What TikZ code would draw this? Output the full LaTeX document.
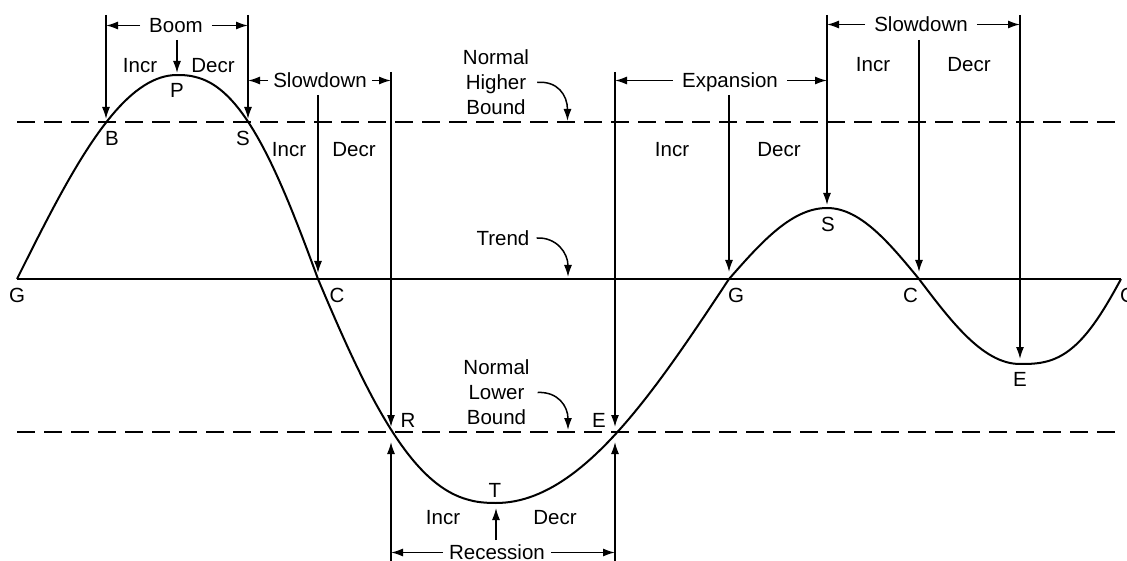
\documentclass[tikz,border=0pt]{standalone}
\usepackage{fontspec}
\setmainfont{Liberation Sans}
\usetikzlibrary{arrows.meta}
\begin{document}
\begin{tikzpicture}[x=1pt,y=-1pt,
  curve/.style={line width=2pt, line join=round},
  guide/.style={line width=1.5pt},
  bound/.style={line width=1.6pt, dash pattern=on 18pt off 9pt},
  arr/.style={guide,-{Latex[length=12pt,width=8pt]}},
  lbl/.style={font=\fontsize{20.5}{25}\selectfont, inner sep=0pt, text height=14.7pt, text depth=0pt},
  brk/.style={lbl, inner xsep=9pt},
  multi/.style={font=\fontsize{20.5}{25}\selectfont, align=center, inner sep=0pt}
]
\useasboundingbox (0,0) rectangle (1127,561);
\fill[white] (0,0) rectangle (1127,561);

% points on the curve
\coordinate (G1) at (17,279);
\coordinate (B1) at (106,122);
\coordinate (P)  at (177,75);
\coordinate (S1) at (248,122);
\coordinate (C1) at (318,279);
\coordinate (R)  at (391,432);
\coordinate (T)  at (496,503);
\coordinate (E1) at (615,432);
\coordinate (G2) at (729,279);
\coordinate (S2) at (827,208);
\coordinate (C2) at (919,279);
\coordinate (E2) at (1020,364);
\coordinate (G3) at (1121,279);

% bounds and trend
\coordinate (ubL) at (17,122);  \coordinate (ubR) at (1121,122);
\coordinate (lbL) at (17,432);  \coordinate (lbR) at (1121,432);
\draw[bound] (ubL) -- (ubR);
\draw[bound] (lbL) -- (lbR);
\draw[line width=1.6pt] (G1) -- (G3);

% the cycle curve
\draw[curve] (G1)
 -- plot[domain=17:177, samples=40] (\x,{279-204*sin(((\x-17)/160)*90)})
 -- plot[domain=177.5:318, samples=40] (\x,{279-204*cos((((\x-177)/141)^1.2)*90)})
 -- plot[domain=318:495.5, samples=50] (\x,{279+224*sin((1-(1-(\x-318)/178)^1.2)*90)})
 -- plot[domain=496:729, samples=50] (\x,{279+224*cos(((\x-496)/233)*90)})
 -- plot[domain=729:827, samples=30] (\x,{279-71*sin(((\x-729)/98)*90)})
 -- plot[domain=827:919, samples=30] (\x,{279-71*cos(((\x-827)/92)*90)})
 -- plot[domain=919:1020, samples=30] (\x,{279+85*sin(((\x-919)/101)*90)})
 -- plot[domain=1020.5:1121, samples=30] (\x,{279+85*cos((((\x-1020)/101)^1.4)*90)});

% point labels
\node[lbl] (lG1) at (17,295) {G};
\node[lbl] (lB1) at (112,138.5) {B};
\node[lbl] (lP)  at (177,90) {P};
\node[lbl] (lS1) at (243,138.5) {S};
\node[lbl] (lC1) at (337,295) {C};
\node[lbl] (lR)  at (408,420) {R};
\node[lbl] (lT)  at (495,490.5) {T};
\node[lbl] (lE1) at (599,420) {E};
\node[lbl] (lG2) at (736,295) {G};
\node[lbl] (lS2) at (828,224.5) {S};
\node[lbl] (lC2) at (910.5,295) {C};
\node[lbl] (lE2) at (1020,379.5) {E};
\node[lbl] (lG3) at (1128,295) {G};

% top ends of guide lines
\coordinate (bt1) at (106,15);
\coordinate (st1) at (248,15);
\coordinate (pt)  at (177,40);
\coordinate (ct1) at (318,95);
\coordinate (rt)  at (391,72);
\coordinate (et1) at (615,72);
\coordinate (gt2) at (729,95);
\coordinate (st2) at (827,15);
\coordinate (ct2) at (919,40);
\coordinate (et2) at (1020,15);
\coordinate (rb)  at (391,561);
\coordinate (eb)  at (615,561);
\coordinate (tb)  at (496,540);

% Boom
\node[brk] (boom) at (176,25.5) {Boom};
\draw[arr, shorten >=3pt] (bt1) -- (B1);
\draw[arr, shorten >=3pt] (st1) -- (S1);
\draw[arr] (boom.west) -- (boom.west -| bt1);
\draw[arr] (boom.east) -- (boom.east -| st1);
\draw[arr, shorten >=2pt] (pt) -- (P);
\node[lbl] (bi) at (140,65) {Incr};
\node[lbl] (bd) at (213,65) {Decr};

% Slowdown 1
\node[brk, inner xsep=5pt] (slow1) at (320,80.5) {Slowdown};
\draw[arr] (slow1.west) -- (slow1.west -| st1);
\draw[arr] (slow1.east) -- (slow1.east -| rt);
\draw[arr, shorten >=6pt] (ct1) -- (C1);
\draw[arr, shorten >=5pt] (rt) -- (R);
\node[lbl] (s1i) at (289,149.5) {Incr};
\node[lbl] (s1d) at (354,149.5) {Decr};

% Normal Higher Bound
\node[multi] (hb) at (496,82.5) {Normal\\Higher\\Bound};
\coordinate (hbt) at (567.5,121);
\draw[arr] ([xshift=8pt]hb.east) .. controls +(20,-2) and +(0,-26) .. (hbt);

% Expansion
\node[brk] (exp) at (730,80.5) {Expansion};
\draw[arr] (exp.west) -- (exp.west -| et1);
\draw[arr] (exp.east) -- (exp.east -| st2);
\draw[arr, shorten >=5pt] (et1) -- (E1);
\draw[arr, shorten >=7pt] (gt2) -- (G2);
\draw[arr, shorten >=3pt] (st2) -- (S2);
\node[lbl] (xi) at (672,149.5) {Incr};
\node[lbl] (xd) at (779,149.5) {Decr};

% Slowdown 2
\node[brk] (slow2) at (921,24.5) {Slowdown};
\draw[arr] (slow2.west) -- (slow2.west -| st2);
\draw[arr] (slow2.east) -- (slow2.east -| et2);
\draw[arr, shorten >=7pt] (ct2) -- (C2);
\draw[arr, shorten >=5pt] (et2) -- (E2);
\node[lbl] (s2i) at (873,64.5) {Incr};
\node[lbl] (s2d) at (969,64.5) {Decr};

% Trend
\node[lbl] (trend) at (503,238) {Trend};
\coordinate (trt) at (568,277);
\draw[arr] ([xshift=7pt]trend.east) .. controls +(20,-1) and +(0,-24) .. (trt);

% Normal Lower Bound
\node[multi] (lb) at (496.5,392.5) {Normal\\Lower\\Bound};
\coordinate (lbt) at (568,430);
\draw[arr] ([xshift=8pt]lb.east) .. controls +(20,-1) and +(0,-24) .. (lbt);

% Recession
\node[brk, inner xsep=6pt] (rec) at (497,552.5) {Recession};
\draw[arr, shorten >=10pt] (rb) -- (R);
\draw[arr, shorten >=10pt] (eb) -- (E1);
\draw[arr] (rec.west) -- (rec.west -| rb);
\draw[arr] (rec.east) -- (rec.east -| eb);
\draw[arr, shorten >=5pt] (tb) -- (T);
\node[lbl] (ri) at (443,517.5) {Incr};
\node[lbl] (rd) at (555,517.5) {Decr};
\end{tikzpicture}
\end{document}
